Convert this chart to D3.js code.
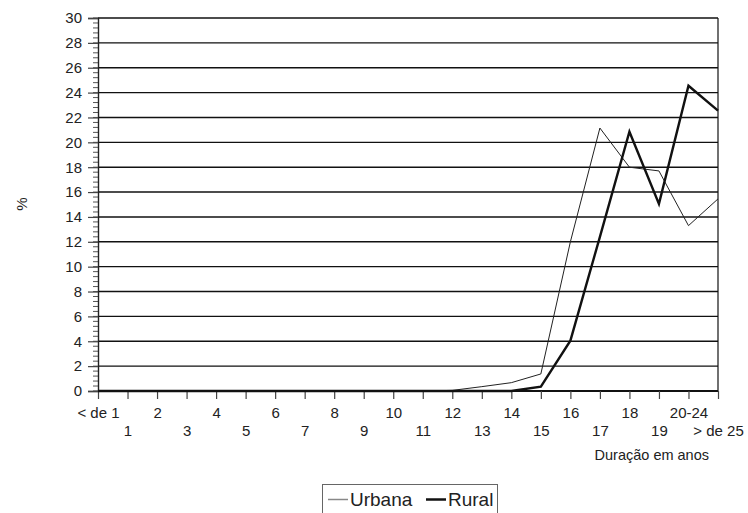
<!DOCTYPE html>
<html>
<head>
<meta charset="utf-8">
<script src="https://cdn.jsdelivr.net/npm/d3@7"></script>
<style>
  body { margin: 0; background: #fff; }
  svg text { font-family: "Liberation Sans", Arial, sans-serif; fill: #222; }
</style>
</head>
<body>
<div id="chart"></div>
<script>
// categories on the x axis (duration in years)
const categories = ['< de 1','1','2','3','4','5','6','7','8','9','10','11','12','13','14','15','16','17','18','19','20-24','> de 25'];
// percent values
const urbana = [0,0,0,0,0,0,0,0,0,0,0,0,0.05,0.35,0.67,1.37,12.0,21.15,18.0,17.7,13.3,15.45];
const rural  = [0,0,0,0,0,0,0,0,0,0,0,0,0,0,0,0.35,4.05,12.4,20.85,15.05,24.55,22.55];
const yTicks = d3.range(0, 31, 2);
const yMinor = d3.range(0, 30.01, 0.4);

const W = 748, H = 513;
const mLeft = 98, mRight = 718, mTop = 18, mBottom = 391;

const svg = d3.select('#chart').append('svg')
    .attr('width', W)
    .attr('height', H);

const x = d3.scalePoint().domain(categories).range([mLeft, mRight]);
const y = d3.scaleLinear().domain([0, 30]).range([mBottom, mTop]);

// horizontal grid lines
svg.append('g').selectAll('line').data(yTicks).enter()
  .append('line')
    .attr('x1', mLeft).attr('x2', mRight)
    .attr('y1', d => y(d)).attr('y2', d => y(d))
    .attr('stroke', '#111')
    .attr('stroke-width', d => d === 0 ? 2 : 1.4);

// right border
svg.append('line')
    .attr('x1', mRight).attr('x2', mRight)
    .attr('y1', mTop).attr('y2', mBottom)
    .attr('stroke', '#111').attr('stroke-width', 1.2);

// minor ticks on y axis
svg.append('g').selectAll('line').data(yMinor).enter()
  .append('line')
    .attr('x1', mLeft - 5).attr('x2', mLeft)
    .attr('y1', d => y(d)).attr('y2', d => y(d))
    .attr('stroke', '#555').attr('stroke-width', 1);

// y axis
const yAxis = d3.axisLeft(y).tickValues(yTicks).tickSize(10).tickPadding(6);
const gy = svg.append('g').attr('transform', `translate(${mLeft},0)`).call(yAxis);
gy.select('.domain').attr('stroke', '#222').attr('stroke-width', 1.4);
gy.selectAll('.tick line').attr('stroke', '#444').attr('stroke-width', 1.2);
gy.selectAll('.tick text').style('font-size', '15px').attr('fill', '#1a1a1a');

// x axis, labels alternate between two rows
const xAxis = d3.axisBottom(x).tickSize(8).tickPadding(8);
const gx = svg.append('g').attr('transform', `translate(0,${mBottom})`).call(xAxis);
gx.select('.domain').remove();
gx.selectAll('.tick line').attr('stroke', '#444').attr('stroke-width', 1.2);
gx.selectAll('.tick text')
    .style('font-size', '15px').attr('fill', '#1a1a1a')
    .attr('dy', (d, i) => i % 2 === 0 ? '0.71em' : '1.9em');

// lines
const line = d3.line().x((d, i) => x(categories[i])).y(d => y(d));
svg.append('path').datum(urbana)
    .attr('d', line).attr('fill', 'none')
    .attr('stroke', '#222').attr('stroke-width', 1);
svg.append('path').datum(rural)
    .attr('d', line).attr('fill', 'none')
    .attr('stroke', '#111').attr('stroke-width', 2.4)
    .attr('stroke-linejoin', 'miter');

// axis titles
svg.append('text')
    .attr('transform', 'translate(27,204) rotate(-90)')
    .attr('text-anchor', 'middle')
    .style('font-size', '15px')
    .text('%');
svg.append('text')
    .attr('x', 709).attr('y', 460)
    .attr('text-anchor', 'end')
    .style('font-size', '14.5px')
    .text('Duração em anos');

// legend
const leg = svg.append('g').attr('transform', 'translate(322,484)');
leg.append('rect')
    .attr('x', 0.5).attr('y', 0.5).attr('width', 175).attr('height', 40)
    .attr('fill', 'none').attr('stroke', '#666').attr('stroke-width', 1);
const items = [
  {name: 'Urbana', color: '#888', w: 1.5, x: 6},
  {name: 'Rural', color: '#111', w: 2.5, x: 104}
];
items.forEach(it => {
  leg.append('line')
      .attr('x1', it.x).attr('x2', it.x + 20)
      .attr('y1', 15.5).attr('y2', 15.5)
      .attr('stroke', it.color).attr('stroke-width', it.w);
  leg.append('text')
      .attr('x', it.x + 22).attr('y', 22)
      .style('font-size', '19px')
      .text(it.name);
});
</script>
</body>
</html>
